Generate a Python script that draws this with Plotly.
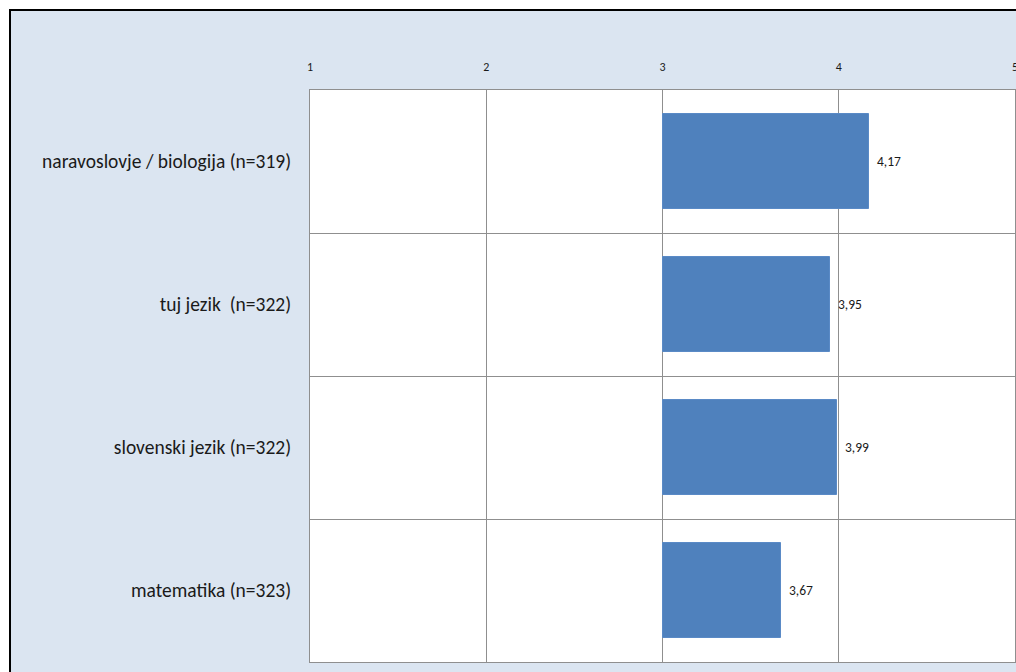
import plotly.graph_objects as go

# Mean ratings per school subject (scale 1-5)
subjects = [
    "matematika (n=323)",
    "slovenski jezik (n=322)",
    "tuj jezik\u00a0 (n=322)",
    "naravoslovje / biologija (n=319)",
]
means = [3.67, 3.99, 3.95, 4.17]
scale_ticks = [1, 2, 3, 4, 5]
bar_base = 3

W, H = 1016, 672
M_L, M_R, M_T, M_B = 310, 1, 90, 10
PW, PH = W - M_L - M_R, H - M_T - M_B

FRAME_BG = "#DBE5F1"
BAR_COLOR = "#4F81BD"
GRID = "#8F8F8F"
FONT = "Carlito, Lato, 'Liberation Sans', sans-serif"

ypos = [i + 0.5 for i in range(len(subjects))]


def px_x(px):
    return (px - M_L) / PW


def px_y(py):
    return (H - M_B - py) / PH


fig = go.Figure()
fig.add_trace(go.Bar(
    y=ypos,
    x=[m - bar_base for m in means],
    base=bar_base,
    orientation="h",
    width=0.67,
    marker=dict(color=BAR_COLOR, line=dict(color="#5A8AC6", width=1)),
    hoverinfo="skip",
))

# value labels beside each bar, decimal comma
for y, m in zip(ypos, means):
    fig.add_annotation(
        x=m, y=y, xref="x", yref="y",
        text=f"{m:.2f}".replace(".", ","),
        showarrow=False, xanchor="left", yanchor="middle",
        xshift=6, font=dict(family=FONT, size=13.5, color="#1A1A1A"),
    )

# outer frame: white page margin and black border
shapes = [
    dict(type="rect", xref="paper", yref="paper", layer="below",
         x0=px_x(-5), x1=px_x(9), y0=px_y(680), y1=px_y(-5),
         fillcolor="white", line=dict(width=0)),
    dict(type="rect", xref="paper", yref="paper", layer="below",
         x0=px_x(-5), x1=px_x(1030), y0=px_y(9), y1=px_y(-5),
         fillcolor="white", line=dict(width=0)),
    dict(type="line", xref="paper", yref="paper", layer="above",
         x0=px_x(10), x1=px_x(10), y0=px_y(9), y1=px_y(680),
         line=dict(color="black", width=2)),
    dict(type="line", xref="paper", yref="paper", layer="above",
         x0=px_x(9), x1=px_x(1030), y0=px_y(10), y1=px_y(10),
         line=dict(color="black", width=2)),
]

fig.update_layout(
    width=W, height=H,
    margin=dict(l=M_L, r=M_R, t=M_T, b=M_B, pad=0, autoexpand=False),
    paper_bgcolor=FRAME_BG,
    plot_bgcolor="white",
    showlegend=False,
    shapes=shapes,
    bargap=0,
)

fig.update_xaxes(
    range=[1, 5], side="top", automargin=False,
    tickvals=scale_ticks, ticktext=[str(t) for t in scale_ticks],
    showgrid=True, gridcolor=GRID, gridwidth=1,
    zeroline=False, showline=True, mirror=True, linecolor=GRID, linewidth=1,
    ticks="", ticklabelstandoff=13, ticklabeloverflow="allow",
    tickfont=dict(family=FONT, size=12, color="#1A1A1A"),
    fixedrange=True,
)
fig.update_yaxes(
    range=[0, len(subjects)], automargin=False,
    tickvals=ypos, ticktext=subjects,
    showgrid=False, zeroline=False,
    showline=True, mirror=True, linecolor=GRID, linewidth=1,
    minor=dict(tickvals=list(range(len(subjects) + 1)), showgrid=True,
               gridcolor=GRID, gridwidth=1, ticks=""),
    ticks="", ticklabelstandoff=14,
    tickfont=dict(family=FONT, size=19.5, color="#1A1A1A"),
    fixedrange=True,
)

fig.write_html("out.html")
